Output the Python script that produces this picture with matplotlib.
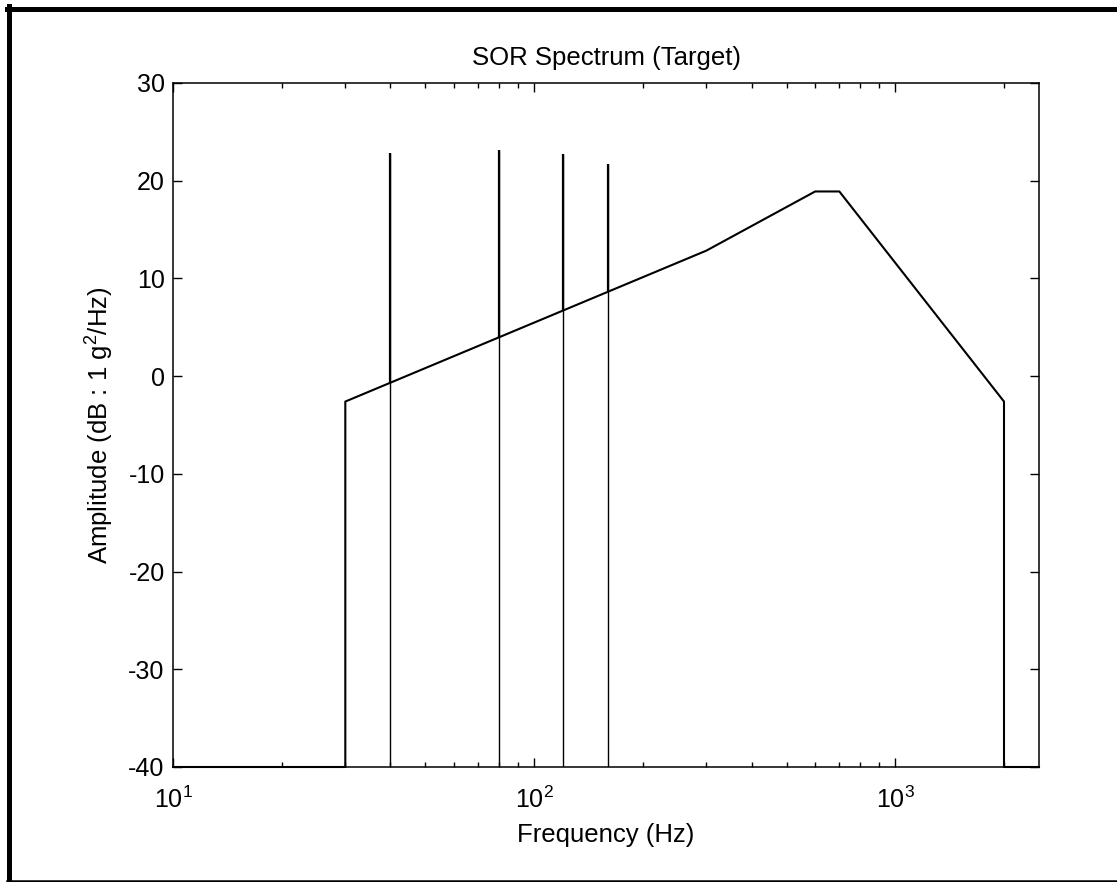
import numpy as np
import matplotlib
matplotlib.use("Agg")
import matplotlib.pyplot as plt
from matplotlib.lines import Line2D
from matplotlib.ticker import LogLocator, MultipleLocator

plt.rcParams['font.family'] = ['Liberation Sans', 'DejaVu Sans']
plt.rcParams['mathtext.fontset'] = 'custom'
plt.rcParams['mathtext.rm'] = 'Liberation Sans'
plt.rcParams['mathtext.it'] = 'Liberation Sans:italic'
plt.rcParams['axes.unicode_minus'] = False

# random background breakpoints (Hz, dB)
freq = [10, 30, 30, 300, 600, 700, 2000, 2000, 2500]
level = [-40, -40, -2.6, 12.85, 18.9, 18.9, -2.6, -40, -40]

# sine tones
sine_freq = [40, 80, 120, 160]
sine_peak = [22.8, 23.1, 22.7, 21.7]

W, H = 1117, 882
fig = plt.figure(figsize=(W / 100, H / 100), dpi=100)
ax = fig.add_axes([173 / W, 1 - 767 / H, (1039 - 173) / W, (767 - 83) / H])

ax.plot(freq, level, color="black", lw=1.5, clip_on=False, zorder=3)

base = np.interp(np.log10(sine_freq), np.log10(freq[2:4]), level[2:4])
ax.vlines(sine_freq, -40, sine_peak, color="black", lw=1.0, zorder=3)
ax.vlines(sine_freq, base, sine_peak, color="black", lw=1.6, zorder=3)

ax.set_xscale("log")
ax.set_xlim(10, 2500)
ax.set_ylim(-40, 30)
ax.yaxis.set_major_locator(MultipleLocator(10))
ax.xaxis.set_major_locator(LogLocator(base=10))
ax.xaxis.set_minor_locator(LogLocator(base=10, subs=np.arange(2, 10)))

ax.tick_params(which="both", direction="in", top=True, right=True, labelsize=18)
ax.tick_params(which="major", length=6.5, width=1.0)
ax.tick_params(which="minor", length=3.6, width=1.0)
ax.tick_params(axis="x", pad=14)
ax.tick_params(axis="y", pad=6)
for s in ax.spines.values():
    s.set_linewidth(1.1)

ax.set_title("SOR Spectrum (Target)", fontsize=18.5, pad=13)
ax.set_xlabel("Frequency (Hz)", fontsize=18.5, labelpad=7)
ax.set_ylabel("Amplitude (dB : 1 g$^2$/Hz)", fontsize=18.5, labelpad=9)

# outer frame
fig.add_artist(Line2D([7 / W, 1], [1 - 8.5 / H, 1 - 8.5 / H], transform=fig.transFigure, color="black", lw=3.6))
fig.add_artist(Line2D([9.5 / W, 9.5 / W], [0, 1 - 6 / H], transform=fig.transFigure, color="black", lw=3.6))
fig.add_artist(Line2D([7 / W, 1], [1.2 / H, 1.2 / H], transform=fig.transFigure, color="black", lw=1.8))

fig.savefig("out.png", dpi=100)
